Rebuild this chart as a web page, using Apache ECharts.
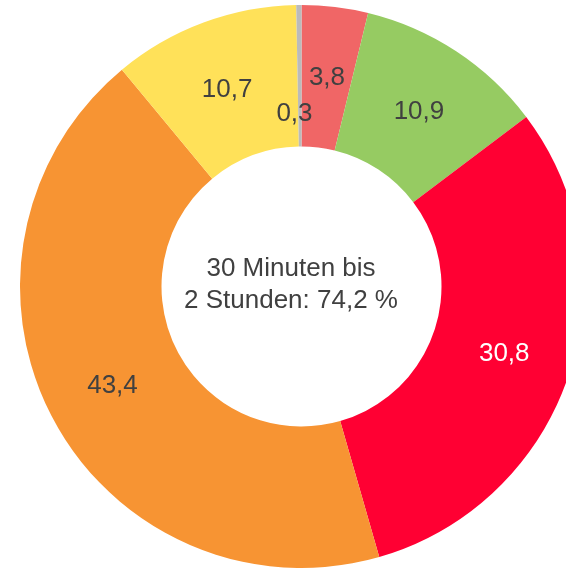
<!DOCTYPE html>
<html>
<head>
<meta charset="utf-8">
<script src="https://cdn.jsdelivr.net/npm/echarts@6/dist/echarts.min.js"></script>
<style>
    html, body { margin: 0; padding: 0; background: #fff; }
    #chart { width: 566px; height: 570px; }
</style>
</head>
<body>
<div id="chart"></div>
<script>
    // Slices in clockwise order, starting at 12 o'clock
    const categories = ['A', 'B', 'C', 'D', 'E', 'F'];
    const values = [3.8, 10.9, 30.8, 43.4, 10.7, 0.3];
    const colors = ['#F06666', '#96CB62', '#FF0033', '#F79433', '#FFE159', '#BBBBBB'];
    const labelColors = ['#404040', '#404040', '#FFFFFF', '#404040', '#404040', '#404040'];
    const centerText = '30 Minuten bis\n2 Stunden: 74,2 %';

    const fmt = (v) => v.toFixed(1).replace('.', ',');

    const myChart = echarts.init(document.getElementById('chart'));

    const option = {
        animation: false,
        backgroundColor: '#fff',
        graphic: [
            {
                type: 'text',
                x: 291,
                y: 285,
                style: {
                    text: centerText,
                    fill: '#404040',
                    font: '26px "Liberation Sans", Arial, sans-serif',
                    lineHeight: 32,
                    align: 'center',
                    verticalAlign: 'middle'
                }
            }
        ],
        series: [
            {
                type: 'pie',
                center: [301.5, 286.5],
                radius: [140, 281.5],
                startAngle: 90,
                clockwise: true,
                label: {
                    show: true,
                    position: 'inside',
                    fontFamily: '"Liberation Sans", Arial, sans-serif',
                    fontSize: 26,
                    formatter: (p) => fmt(p.value)
                },
                labelLine: { show: false },
                // the tiny last slice has its label nudged down, as in the original
                labelLayout: (params) => {
                    if (params.dataIndex === values.length - 1) {
                        return { dx: -5, dy: 41 };
                    }
                    if (params.dataIndex <= 1 || params.dataIndex === 4) {
                        return { dy: 4 };
                    }
                    return {};
                },
                emphasis: { disabled: true },
                data: categories.map((name, i) => ({
                    name: name,
                    value: values[i],
                    itemStyle: { color: colors[i] },
                    label: { color: labelColors[i] }
                }))
            }
        ]
    };
    myChart.setOption(option);
</script>
</body>
</html>
